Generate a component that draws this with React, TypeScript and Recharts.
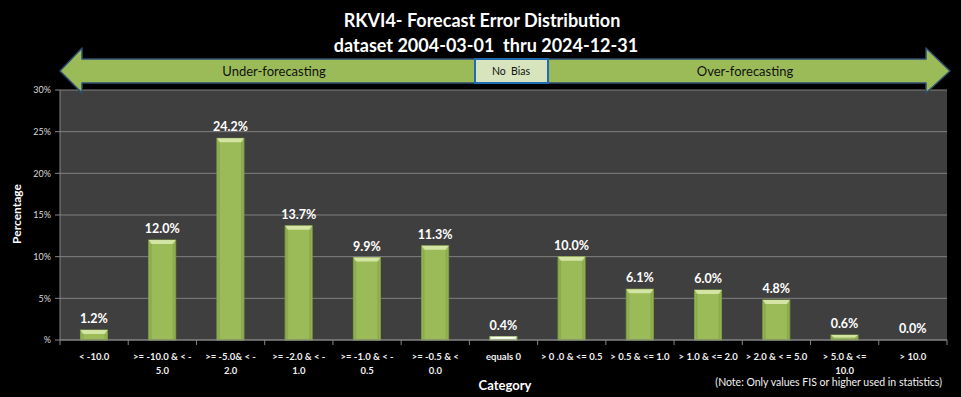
import { Bar, BarChart, CartesianGrid, Cell, LabelList, XAxis, YAxis } from "recharts";

// chart data
const categoryLines = [
  ["< -10.0"],
  [">= -10.0 & < -", "5.0"],
  [">= -5.0& < -", "2.0"],
  [">= -2.0 & < -", "1.0"],
  [">= -1.0 & < -", "0.5"],
  [">= -0.5 & <", "0.0"],
  ["equals 0"],
  ["> 0 .0 & <= 0.5"],
  ["> 0.5 & <= 1.0"],
  ["> 1.0 & <= 2.0"],
  ["> 2.0 & < = 5.0"],
  ["> 5.0 & <=", "10.0"],
  ["> 10.0"],
];
const categories = categoryLines.map((l) => l.join(" "));
const percentages = [1.2, 12.0, 24.2, 13.7, 9.9, 11.3, 0.4, 10.0, 6.1, 6.0, 4.8, 0.6, 0.0];
const yTicks = [0, 5, 10, 15, 20, 25, 30];
const noBiasCategory = "equals 0";

const data = categories.map((c, i) => ({ category: c, pct: percentages[i] }));

const W = 961;
const H = 397;
const X_H = 57;
const M = { top: 90, right: 14, bottom: 0, left: 20 };
const Y_W = 40;
const PLOT_L = M.left + Y_W;
const PLOT_W = W - PLOT_L - M.right;
const PLOT_B = H - X_H;
const BAND = PLOT_W / categories.length;

const FONT = "Lato, 'Open Sans', sans-serif";
const GREEN = "#9bbb59";

function CategoryTick(props: any) {
  const { x, payload } = props;
  const idx = categories.indexOf(payload.value);
  const lines = categoryLines[idx] || [payload.value];
  const left = x - BAND / 2;
  return (
    <g>
      <line x1={left} x2={left} y1={PLOT_B} y2={PLOT_B + 5} stroke="#868686" />
      {idx === categories.length - 1 && (
        <line x1={left + BAND} x2={left + BAND} y1={PLOT_B} y2={PLOT_B + 5} stroke="#868686" />
      )}
      {lines.map((t, i) => (
        <text
          key={i}
          x={x}
          y={PLOT_B + 20 + i * 14}
          textAnchor="middle"
          fill="#f2f2f2"
          fontSize={9.5}
          fontWeight="bold"
          fontFamily={FONT}
        >
          {t}
        </text>
      ))}
    </g>
  );
}

function BevelBar(props: any) {
  const { x, y, width, height, payload } = props;
  if (!height || height <= 0) return null;
  const light = payload.category === noBiasCategory;
  const fill = light ? "#eef3e2" : GREEN;
  const edge = light ? "#9bbb59" : "#7f9d43";
  const b = Math.min(4, height / 2);
  return (
    <g>
      <rect x={x} y={y} width={width} height={height} fill={fill} stroke={edge} strokeWidth={1} />
      <polygon
        points={`${x},${y} ${x + width},${y} ${x + width - 3},${y + b} ${x + 3},${y + b}`}
        fill={light ? "#ffffff" : "#d3e4a4"}
      />
      <rect x={x + 1} y={y + b} width={2} height={height - b} fill={light ? "#dfe8cc" : "#8cab4c"} />
      <rect x={x + width - 3} y={y + b} width={2} height={height - b} fill={light ? "#dfe8cc" : "#8cab4c"} />
    </g>
  );
}

function Overlay() {
  const arrow = [
    [60, 71], [82, 48], [82, 59], [926, 59], [926, 48], [950, 71],
    [926, 93], [926, 83], [82, 83], [82, 93],
  ].map((p) => p.join(",")).join(" ");
  return (
    <svg width={W} height={H} style={{ position: "absolute", left: 0, top: 0, pointerEvents: "none" }}>
      <text x={482} y={27} textAnchor="middle" fill="#fff" fontSize={18} fontWeight="bold" fontFamily={FONT}>
        RKVI4- Forecast Error Distribution
      </text>
      <text x={486} y={52} textAnchor="middle" fill="#fff" fontSize={18} fontWeight="bold" fontFamily={FONT} xmlSpace="preserve">
        dataset 2004-03-01  thru 2024-12-31
      </text>
      <polygon points={arrow} fill={GREEN} stroke="#2e4d73" strokeWidth={1.5} strokeLinejoin="round" />
      <rect x={475} y={59} width={73} height={24} fill="#d7e4bd" stroke="#1f6cb5" strokeWidth={2} />
      <text x={274} y={76} textAnchor="middle" fill="#111" fontSize={13} fontFamily={FONT}>
        Under-forecasting
      </text>
      <text x={511} y={75} textAnchor="middle" fill="#111" fontSize={10.5} fontFamily={FONT} xmlSpace="preserve">
        No  Bias
      </text>
      <text x={745} y={76} textAnchor="middle" fill="#111" fontSize={13} fontFamily={FONT}>
        Over-forecasting
      </text>
      <text
        x={0}
        y={0}
        transform="translate(21,214) rotate(-90)"
        textAnchor="middle"
        fill="#fff"
        fontSize={12}
        fontWeight="bold"
        fontFamily={FONT}
      >
        Percentage
      </text>
      <text x={505} y={390} textAnchor="middle" fill="#fff" fontSize={13} fontWeight="bold" fontFamily={FONT}>
        Category
      </text>
      <text x={942} y={386} textAnchor="end" fill="#f2f2f2" fontSize={10.5} fontFamily={FONT}>
        (Note: Only values FIS or higher used in statistics)
      </text>
    </svg>
  );
}

export default function App() {
  return (
    <div style={{ position: "absolute", left: 0, top: 0, width: W, height: H, background: "#000" }}>
      <BarChart width={W} height={H} data={data} margin={M} barCategoryGap="30%">
        <CartesianGrid fill="#3f3f3f" stroke="#808080" vertical={false} />
        <XAxis
          dataKey="category"
          interval={0}
          tickLine={false}
          axisLine={{ stroke: "#868686" }}
          tick={<CategoryTick />}
          height={X_H}
        />
        <YAxis
          domain={[0, 30]}
          ticks={yTicks}
          width={Y_W}
          tickFormatter={(v) => (v === 0 ? "%" : `${v}%`)}
          tick={{ fill: "#d9d9d9", fontSize: 9, fontFamily: FONT }}
          tickSize={5}
          tickMargin={4}
          axisLine={{ stroke: "#868686" }}
          tickLine={{ stroke: "#868686" }}
        />
        <Bar dataKey="pct" shape={<BevelBar />} isAnimationActive={false}>
          {data.map((d, i) => (
            <Cell key={i} fill={d.category === noBiasCategory ? "#eef3e2" : GREEN} />
          ))}
          <LabelList
            dataKey="pct"
            position="top"
            offset={7}
            fill="#fff"
            fontSize={12.5}
            fontWeight="bold"
            fontFamily={FONT}
            formatter={(v: any) => `${Number(v).toFixed(1)}%`}
          />
        </Bar>
      </BarChart>
      <Overlay />
    </div>
  );
}
